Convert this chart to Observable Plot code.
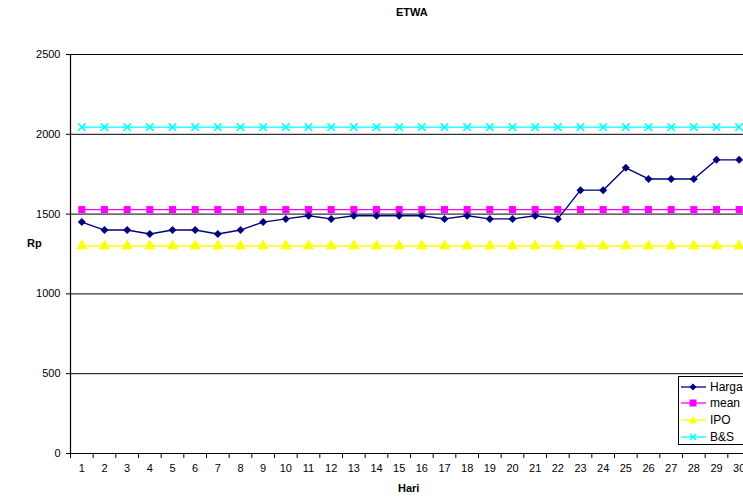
<!DOCTYPE html>
<html>
<head>
<meta charset="utf-8">
<script src="https://cdn.jsdelivr.net/npm/d3@7"></script>
<script src="https://cdn.jsdelivr.net/npm/@observablehq/plot@0.6"></script>
<style>
  html, body { margin: 0; padding: 0; background: #fff; overflow: hidden; }
  #wrap { position: relative; width: 743px; height: 501px; font-family: "Liberation Sans", Arial, sans-serif; }
  .lbl { position: absolute; font-weight: bold; font-size: 11px; color: #000; white-space: nowrap; }
  #legend { position: absolute; left: 678px; top: 376px; width: 80px; height: 67px; border: 1px solid #000; background: #fff; font-size: 12px; }
  #legend .row { position: absolute; left: 2px; height: 14px; display: flex; align-items: center; }
  #legend .row span { margin-left: 4px; }
</style>
</head>
<body>
<div id="wrap">
  <div id="chart"></div>
  <div class="lbl" id="title" style="left:396px; top:6px;">ETWA</div>
  <div class="lbl" style="left:27px; top:237px;">Rp</div>
  <div class="lbl" style="left:398px; top:482px;">Hari</div>
  <div id="legend"></div>
</div>
<script>
const days = [1,2,3,4,5,6,7,8,9,10,11,12,13,14,15,16,17,18,19,20,21,22,23,24,25,26,27,28,29,30];
const harga = [1450,1400,1400,1375,1400,1400,1375,1400,1450,1470,1490,1470,1490,1490,1490,1490,1470,1490,1470,1470,1490,1470,1650,1650,1790,1720,1720,1720,1840,1840];
const meanV = [1528,1528,1528,1528,1528,1528,1528,1528,1528,1528,1528,1528,1528,1528,1528,1528,1528,1528,1528,1528,1528,1528,1528,1528,1528,1528,1528,1528,1528,1528];
const ipo = [1300,1300,1300,1300,1300,1300,1300,1300,1300,1300,1300,1300,1300,1300,1300,1300,1300,1300,1300,1300,1300,1300,1300,1300,1300,1300,1300,1300,1300,1300];
const bs = [2045,2045,2045,2045,2045,2045,2045,2045,2045,2045,2045,2045,2045,2045,2045,2045,2045,2045,2045,2045,2045,2045,2045,2045,2045,2045,2045,2045,2045,2045];
const seriesNames = ["Harga", "mean", "IPO", "B&S"];
const seriesColors = ["#000080", "#FF00FF", "#FFFF00", "#00FFFF"];
const yTicks = [0, 500, 1000, 1500, 2000, 2500];

const rows = (vals) => days.map((d, i) => ({day: d, v: vals[i]}));
const boundaries = [0.5].concat(days.map(d => d + 0.5));

// rhombus with equal width/height
const rhombus = {
  draw(context, size) {
    const h = Math.sqrt(size / 2);
    context.moveTo(0, -h);
    context.lineTo(h, 0);
    context.lineTo(0, h);
    context.lineTo(-h, 0);
    context.closePath();
  }
};

const chart = Plot.plot({
  width: 743,
  height: 501,
  marginTop: 54,
  marginBottom: 48,
  marginLeft: 70,
  marginRight: 0,
  style: {fontFamily: "'Liberation Sans', Arial, sans-serif", fontSize: "11px", background: "transparent", overflow: "visible"},
  x: {type: "linear", domain: [0.5, 30.5], range: [70, 750]},
  y: {domain: [0, 2500], range: [453, 54]},
  marks: [
    Plot.ruleY(yTicks.slice(1), {stroke: "#000", strokeWidth: 1}),
    Plot.ruleX([0.5], {stroke: "#000", strokeWidth: 1.2}),
    Plot.ruleY([0], {stroke: "#000", strokeWidth: 1.2}),
    Plot.axisY({ticks: yTicks, tickFormat: d => String(d), tickSize: 4, tickPadding: 6, label: null, fontSize: 11, stroke: "#000"}),
    Plot.axisX({ticks: boundaries, tickFormat: () => "", tickSize: 5, label: null, stroke: "#000"}),
    Plot.axisX({ticks: days, tickFormat: d => String(d), tickSize: 0, tickPadding: 11, label: null, fontSize: 11}),
    Plot.lineY(rows(bs), {x: "day", y: "v", stroke: seriesColors[3], strokeWidth: 1.3}),
    Plot.dot(rows(bs), {x: "day", y: "v", symbol: "times", stroke: seriesColors[3], strokeWidth: 1.5, r: 3.5}),
    Plot.lineY(rows(ipo), {x: "day", y: "v", stroke: seriesColors[2], strokeWidth: 1.3}),
    Plot.dot(rows(ipo), {x: "day", y: "v", symbol: "triangle", fill: seriesColors[2], r: 4.2}),
    Plot.lineY(rows(meanV), {x: "day", y: "v", stroke: seriesColors[1], strokeWidth: 1.3}),
    Plot.dot(rows(meanV), {x: "day", y: "v", symbol: "square", fill: seriesColors[1], r: 4}),
    Plot.lineY(rows(harga), {x: "day", y: "v", stroke: seriesColors[0], strokeWidth: 1.4}),
    Plot.dot(rows(harga), {x: "day", y: "v", symbol: rhombus, fill: seriesColors[0], r: 3.2})
  ]
});
document.getElementById("chart").appendChild(chart);

// legend
const legend = document.getElementById("legend");
const markerSvg = (i, c) => {
  let m = "";
  if (i === 0) m = `<path d="M12,2.5 L15.5,6 L12,9.5 L8.5,6 Z" fill="${c}"/>`;
  if (i === 1) m = `<rect x="8.5" y="2.5" width="7" height="7" fill="${c}"/>`;
  if (i === 2) m = `<path d="M12,2 L16,9.5 L8,9.5 Z" fill="${c}"/>`;
  if (i === 3) m = `<path d="M9,3 L15,9 M15,3 L9,9" stroke="${c}" stroke-width="1.5"/>`;
  return `<svg width="25" height="12"><line x1="0" y1="6" x2="25" y2="6" stroke="${c}" stroke-width="1.3"/>${m}</svg>`;
};
const rowTops = [3, 19, 36, 53];
seriesNames.forEach((n, i) => {
  const r = document.createElement("div");
  r.className = "row";
  r.style.top = rowTops[i] + "px";
  r.innerHTML = markerSvg(i, seriesColors[i]) + `<span>${n.replace("&", "&amp;")}</span>`;
  legend.appendChild(r);
});
</script>
</body>
</html>
